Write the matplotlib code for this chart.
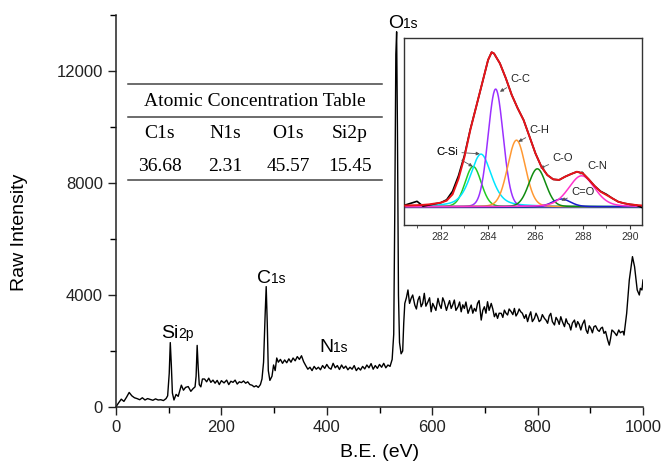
import numpy as np
import matplotlib.pyplot as plt
from matplotlib.ticker import MultipleLocator

plt.rcParams['font.family'] = ['Liberation Sans', 'DejaVu Sans']

# survey spectrum: binding energy (eV) and raw intensity
be = [0, 5, 10, 15, 20, 25, 30, 35, 40, 45, 50, 55, 60, 65, 70, 75, 80, 85, 90, 95,
      98, 101, 103, 105, 107, 110, 114, 118, 124, 128, 132, 137, 142, 146, 150, 152,
      154, 156, 158, 161, 164, 168, 172, 176, 180, 184, 188, 192, 196, 200, 205, 210,
      214, 218, 222, 226, 230, 234, 238, 242, 246, 250, 254, 258, 262, 266, 270, 274,
      277, 280, 283, 285, 287, 289, 292, 296, 299, 302, 305, 308, 312, 316, 320, 324,
      328, 332, 336, 340, 344, 348, 352, 356, 360, 364, 368, 372, 376, 380, 384, 388,
      392, 396, 400, 404, 408, 412, 416, 420, 424, 428, 432, 436, 440, 444, 448, 452,
      456, 460, 464, 468, 472, 476, 480, 484, 488, 492, 496, 500, 504, 508, 512, 516,
      520, 524, 527, 529, 531, 532.5, 534, 536, 538, 541, 544, 546, 548, 551, 554,
      560, 567, 573, 579, 585, 592, 598, 604, 611, 617, 623, 630, 636, 642, 649, 655,
      661, 668, 674, 680, 686, 693, 699, 705, 712, 718, 724, 731, 737, 743, 750, 756,
      762, 768, 775, 781, 787, 794, 800, 806, 813, 819, 825, 832, 838, 844, 851, 857,
      863, 870, 876, 882, 889, 895, 901, 907, 914, 920, 926, 933, 936, 941, 947, 954,
      960, 964, 969, 974, 980, 984, 989, 993, 995, 998, 1000]
counts = [10, 150, 280, 200, 350, 520, 400, 330, 300, 260, 330, 250, 300, 270, 240, 290,
          250, 260, 230, 300, 400, 1200, 2300, 1500, 500, 250, 450, 380, 780, 600, 700,
          730, 560, 650, 720, 1100, 2200, 1400, 800, 720, 1000, 1000, 900, 1030, 880, 960,
          850, 950, 800, 940, 860, 960, 800, 920, 880, 960, 820, 900, 870, 930, 850, 900,
          800, 780, 720, 760, 700, 800, 1000, 1600, 3300, 4300, 3000, 1300, 950, 1100,
          1500, 1300, 1750, 1600, 1700, 1560, 1680, 1580, 1720, 1600, 1750, 1650, 1800,
          1700, 1830, 1620, 1480, 1350, 1420, 1300, 1450, 1350, 1420, 1330, 1480, 1380,
          1520, 1400, 1350, 1560, 1400, 1480, 1340, 1500, 1380, 1460, 1330, 1420, 1350,
          1480, 1300, 1400, 1320, 1450, 1360, 1500, 1400, 1550, 1350, 1480, 1380, 1520,
          1420, 1560, 1400, 1500, 1450, 1700, 2600, 7000, 12600, 13400, 10000, 4000, 2300,
          1900, 2000, 3000, 3700, 3900, 4180,
          3880, 3640, 3820, 3580, 4060, 3760, 3400, 3580, 3880, 3520, 3760, 3640, 3520,
          3820, 3580, 3400, 3520, 3345, 3640, 3520, 3700, 3105, 3580, 3760, 3700, 3225,
          3165, 3345, 3460, 3285, 3400, 3520, 3345, 3400, 3165, 3050, 3400, 3165, 3225,
          3105, 3165, 2990, 3345, 2930, 3105, 3225, 2870, 2990, 2750, 3105, 3050, 2750,
          3105, 2630, 2810, 2870, 2750, 2810, 2630, 2390, 2210, 2750, 2630, 2750, 2690,
          2570, 3345, 4535, 5370, 5010, 4180, 4000, 4240, 4180, 4535]
# extra in-between readings of the noisy plateau above the O1s peak
be_extra = [557, 563, 570, 576, 582, 588, 595, 601, 607, 614, 620, 627, 633, 639, 645,
            652, 658, 664, 671, 677, 683, 689, 696, 702, 708, 715, 721, 727, 734, 740,
            746, 753, 759, 765, 771, 778, 784, 790, 797, 803, 809, 816, 822, 828, 835,
            841, 847, 854, 860, 866, 873, 879, 885, 892, 898, 904, 910, 917, 923, 929,
            938.5, 944, 950, 957, 962]
counts_extra = [3700, 4000, 3500, 3950, 3700, 3600, 3900, 3700, 3450, 3650, 3900, 3450,
                3800, 3650, 3450, 3750, 3650, 3750, 3500, 3350, 3420, 3800, 3450, 3350,
                3450, 3500, 3350, 3350, 3200, 3350, 3500, 3300, 3250, 3500, 3350, 3300,
                3250, 3050, 3350, 3050, 3300, 3100, 3250, 3050, 3200, 2950, 3050, 3150,
                2950, 3000, 2850, 2950, 2950, 2750, 2900, 2650, 2900, 2700, 2850, 2700,
                2450, 2700, 2550, 2650, 2700]

# C1s high resolution: measured points and fitted envelope (normalised)
hr_be = [280.5, 281.0, 281.25, 281.5, 282.0, 282.25, 282.5, 282.75, 283.0, 283.25,
         283.5, 283.75, 284.0, 284.15, 284.25, 284.5, 284.75, 285.0, 285.25, 285.5,
         285.75, 286.0, 286.25, 286.5, 286.75, 287.0, 287.25, 287.5, 287.75, 288.0,
         288.25, 288.5, 288.75, 289.0, 289.25, 289.5, 289.75, 290.0, 290.25, 290.5]
hr_raw = [0.011, 0.035, 0.004, 0.011, 0.026, 0.045, 0.1, 0.2, 0.33, 0.5, 0.647, 0.797,
          0.948, 0.998, 0.99, 0.926, 0.83, 0.722, 0.636, 0.56, 0.453, 0.345, 0.259,
          0.205, 0.177, 0.173, 0.194, 0.211, 0.226, 0.216, 0.177, 0.134, 0.1, 0.08,
          0.054, 0.032, 0.022, 0.015, 0.011, -0.005]
hr_fit = [0.008, 0.01, 0.012, 0.015, 0.026, 0.039, 0.08, 0.18, 0.32, 0.496, 0.647,
          0.797, 0.948, 0.998, 0.99, 0.926, 0.83, 0.722, 0.636, 0.56, 0.453, 0.345,
          0.259, 0.205, 0.177, 0.173, 0.194, 0.211, 0.226, 0.216, 0.177, 0.134, 0.097,
          0.076, 0.054, 0.032, 0.022, 0.015, 0.011, 0.008]

# fitted components: centre (eV), height, FWHM (eV)
comp_names = ['C-Si', 'C-Si', 'C-C', 'C-H', 'C-O', 'C=O', 'C-N']
comp_center = [283.37, 283.70, 284.32, 285.20, 286.08, 287.10, 287.95]
comp_height = [0.26, 0.34, 0.76, 0.43, 0.245, 0.05, 0.20]
comp_fwhm = [0.80, 1.05, 0.75, 0.88, 0.85, 0.9, 1.30]
comp_eta = [0.1, 0.45, 0.05, 0.1, 0.1, 0.2, 0.25]
comp_color = ['#22cc22', '#00e5ff', '#9b30ff', '#ff9933', '#108c10', '#1a1acc', '#ff33cc']

elements = ['C1s', 'N1s', 'O1s', 'Si2p']
atomic_pct = ['36.68', '2.31', '45.57', '15.45']

x_all = np.array(be + be_extra)
y_all = np.array(counts + counts_extra)
order = np.argsort(x_all)

fig = plt.figure(figsize=(6.66, 4.68), dpi=100)
W, H = 666, 468
ax = fig.add_axes([116 / W, 1 - 407 / H, (643 - 116) / W, (407 - 15) / H])
ax.plot(x_all[order], y_all[order], color='black', lw=1.0)
ax.set_xlim(0, 1000)
ax.set_ylim(0, 14000)
ax.set_xticks([0, 200, 400, 600, 800, 1000])
ax.set_yticks([0, 4000, 8000, 12000])
ax.xaxis.set_minor_locator(MultipleLocator(100))
ax.yaxis.set_minor_locator(MultipleLocator(2000))
for s in ['top', 'right']:
    ax.spines[s].set_visible(False)
for s in ['left', 'bottom']:
    ax.spines[s].set_linewidth(1.1)
    ax.spines[s].set_color('#222222')
ax.tick_params(which='major', direction='out', length=6, width=1.0, labelsize=12,
               colors='#222222')
ax.tick_params(which='minor', direction='out', length=4, width=1.0)
ax.set_xlabel('B.E. (eV)', fontsize=14, labelpad=6)
ax.set_ylabel('Raw Intensity', fontsize=14)
ax.yaxis.set_label_coords(-0.167, 0.446)

# peak labels with small subscripts
renderer = fig.canvas.get_renderer()


def peak_label(x, y, main, sub):
    t = ax.text(x, y, main, fontsize=14, va='baseline', ha='left')
    w = t.get_window_extent(renderer).width * 72 / fig.dpi
    ax.annotate(sub, xy=(x, y), xytext=(w, 0), textcoords='offset points',
                fontsize=10, va='baseline', ha='left')


peak_label(85, 2450, 'Si', '2p')
peak_label(267, 4430, 'C', '1s')
peak_label(385, 1960, 'N', '1s')
peak_label(516, 13530, 'O', '1s')

# three-line table
serif = ['Liberation Serif', 'DejaVu Serif']
for yl in [84, 116.5, 180]:
    fig.add_artist(plt.Line2D([128 / W, 382 / W], [1 - yl / H, 1 - yl / H],
                              color='#444444', lw=1.1))
fig.text(255 / W, 1 - 101 / H, 'Atomic Concentration Table', family=serif,
         fontsize=14, ha='center', va='center')
col_x = [160, 225, 288, 350]
for cx, el, pct in zip(col_x, elements, atomic_pct):
    fig.text(cx / W, 1 - 134 / H, el, family=serif, fontsize=14, ha='center', va='center')
    fig.text(cx / W, 1 - 166 / H, pct, family=serif, fontsize=14, ha='center', va='center')

# inset: C1s deconvolution
ax_in = fig.add_axes([404 / W, 1 - 225 / H, (642 - 404) / W, (225 - 38) / H])
xs = np.linspace(280.4, 290.6, 600)
ax_in.axhline(0, color='#1a1a99', lw=1.0, zorder=1)
for c, h, f, eta, col in zip(comp_center, comp_height, comp_fwhm, comp_eta, comp_color):
    g = np.exp(-4 * np.log(2) * ((xs - c) / f) ** 2)
    lor = 1 / (1 + 4 * ((xs - c) / f) ** 2)
    ax_in.plot(xs, h * ((1 - eta) * g + eta * lor), color=col, lw=1.1, zorder=2)
ax_in.plot(hr_be, hr_raw, color='black', lw=1.2, zorder=3)
ax_in.plot(hr_be, hr_fit, color='#e8141a', lw=1.4, zorder=4)
ax_in.set_xlim(280.45, 290.5)
ax_in.set_ylim(-0.118, 1.09)
ax_in.set_xticks([282, 284, 286, 288, 290])
ax_in.xaxis.set_minor_locator(MultipleLocator(1))
ax_in.set_yticks([])
ax_in.tick_params(which='both', direction='out', labelsize=7.5, pad=2, colors='#333333')
ax_in.tick_params(which='major', length=3)
ax_in.tick_params(which='minor', length=2)
for s in ax_in.spines.values():
    s.set_linewidth(1.0)
    s.set_color('#333333')

arrow = dict(arrowstyle='-|>', color='#555555', lw=0.6, mutation_scale=5,
             shrinkA=1, shrinkB=0)
labels = [('C-C', (284.96, 0.823), (284.5, 0.743)),
          ('C-H', (285.76, 0.496), (285.28, 0.42)),
          ('C-O', (286.73, 0.313), (286.2, 0.248)),
          ('C-N', (288.2, 0.263), (287.85, 0.21)),
          ('C=O', (287.52, 0.097), (287.09, 0.04)),
          ('C-Si', (281.8, 0.355), (283.65, 0.342)),
          ('C-Si', (281.8, 0.355), (283.35, 0.26))]
for txt, pos, tip in labels:
    ax_in.annotate(txt, xy=tip, xytext=pos, fontsize=8, ha='left', va='center',
                   color='#222222', arrowprops=arrow)

fig.savefig('out.png', dpi=100)
